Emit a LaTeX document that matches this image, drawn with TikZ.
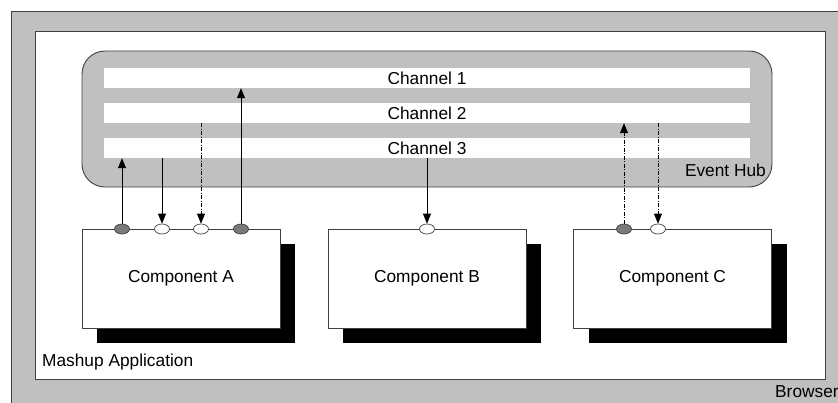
\documentclass[tikz,border=0pt]{standalone}
\usepackage{fontspec}
\setmainfont{Liberation Sans}
\usetikzlibrary{arrows.meta,shadows,shapes.geometric}
\definecolor{panel}{HTML}{C0C0C0}
\definecolor{edge}{HTML}{404040}
\definecolor{portfill}{HTML}{7A7A7A}
\begin{document}
\begin{tikzpicture}[x=1pt,y=-1pt,
  txt/.style={font=\fontsize{17.3}{20}\selectfont},
  lbl/.style={txt, inner sep=0pt},
  bar/.style={txt, fill=white, draw=none, minimum width=646pt, minimum height=20pt, inner sep=0pt},
  comp/.style={txt, draw=edge, fill=white, line width=0.8pt,
    minimum width=198pt, minimum height=99pt, inner sep=0pt,
    drop shadow={shadow xshift=15pt, shadow yshift=-15pt, fill=black, opacity=1}},
  inport/.style={ellipse, draw=edge, line width=0.7pt, fill=white,
    minimum width=15pt, minimum height=10pt, inner sep=0pt},
  outport/.style={inport, fill=portfill},
  link/.style={draw=black, line width=0.7pt, -{Triangle[length=10pt,width=8pt]}},
  dashdot/.style={dash pattern=on 4pt off 1.5pt on 1pt off 1.5pt}
]
\useasboundingbox (0,0) rectangle (838,402);
\clip (0,0) rectangle (838,402);

% browser frame and mashup application area
\draw[edge, line width=0.9pt, fill=panel] (11,11) rectangle (860,420);
\draw[edge, line width=0.9pt, fill=white] (35,31) rectangle (825,379);
\node[lbl, anchor=base west] (mashup) at (42,366) {Mashup Application};
\node[lbl, anchor=base west] (browser) at (775,397) {Browser};

% event hub with its channels
\draw[edge, line width=0.9pt, fill=panel, rounded corners=23pt] (82,51) rectangle (772,187);
\node[bar] (ch1) at (427,78) {Channel 1};
\node[bar] (ch2) at (427,113) {Channel 2};
\node[bar] (ch3) at (427,148) {Channel 3};
\node[lbl, anchor=base east] (hub) at (766,176) {Event Hub};

% components
\node[comp] (A) at (181,278.5) {Component A};
\node[comp] (B) at (427,278.5) {Component B};
\node[comp] (C) at (672.5,278.5) {Component C};

% ports on the top edges
\node[outport] (pA1) at (122,229) {};
\node[inport]  (pA2) at (162,229) {};
\node[inport]  (pA3) at (201,229) {};
\node[outport] (pA4) at (241,229) {};
\node[inport]  (pB)  at (427,229) {};
\node[outport] (pC1) at (624,229) {};
\node[inport]  (pC2) at (658,229) {};

% publish / subscribe links
\draw[link] (pA1.north) -- (pA1.north |- ch3.south);
\draw[link] (pA2.north |- ch3.south) -- (pA2.north);
\draw[link, dashdot] (pA3.north |- ch2.south) -- (pA3.north);
\draw[link] (pA4.north) -- (pA4.north |- ch1.south);
\draw[link] (pB.north |- ch3.south) -- (pB.north);
\draw[link, dashdot] (pC1.north) -- (pC1.north |- ch2.south);
\draw[link, dashdot] (pC2.north |- ch2.south) -- (pC2.north);
\end{tikzpicture}
\end{document}
